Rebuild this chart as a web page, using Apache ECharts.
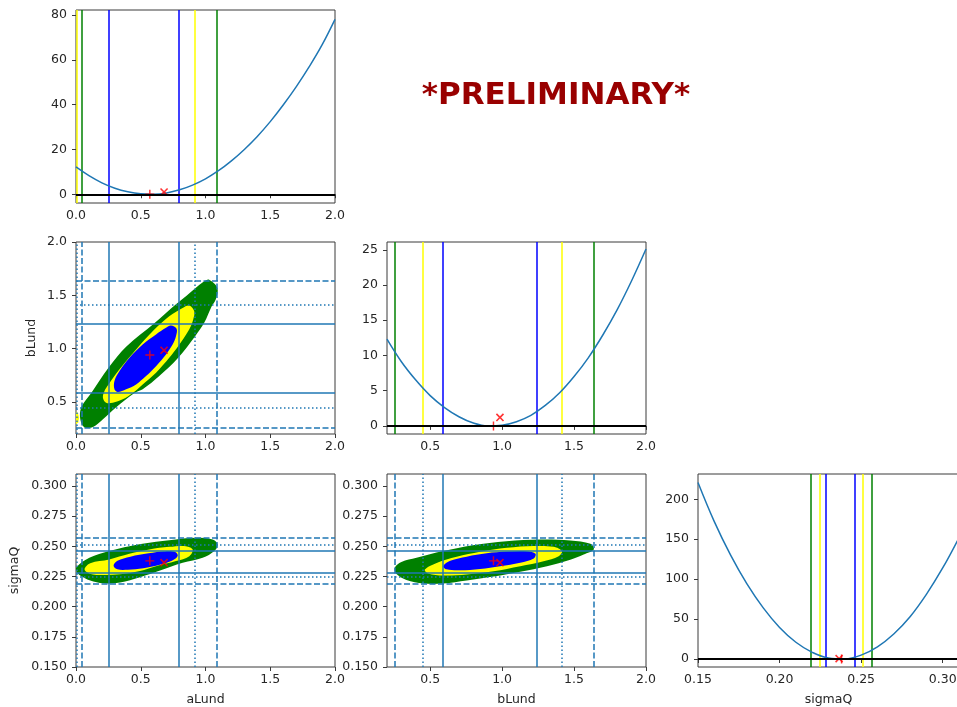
<!DOCTYPE html>
<html><head><meta charset="utf-8">
<script src="https://cdn.jsdelivr.net/npm/echarts@6/dist/echarts.min.js"></script>
<style>html,body{margin:0;padding:0;background:#fff}#c{width:957px;height:707px}</style>
</head><body><div id="c"></div>
<script>
// ---------- data ----------
const paramNames = ['aLund', 'bLund', 'sigmaQ'];

// 1D delta-chi2 profiles
const aLundGrid = [0.0,0.1,0.2,0.3,0.4,0.5,0.6,0.7,0.8,0.9,1.0,1.1,1.2,1.3,1.4,1.5,1.6,1.7,1.8,1.9,2.0];
const chi2_aLund = [12.2,8.3,5.1,2.7,1.1,0.2,0.0,0.6,2.0,4.1,6.9,10.5,14.9,20.0,25.8,32.4,39.8,47.9,56.8,66.6,78.0];
const bLundGrid = [0.2,0.3,0.4,0.5,0.6,0.7,0.8,0.9,1.0,1.1,1.2,1.3,1.4,1.5,1.6,1.7,1.8,1.9,2.0];
const chi2_bLund = [12.3,9.1,6.5,4.3,2.6,1.3,0.4,0.0,0.1,0.6,1.5,2.9,4.7,7.0,9.7,12.9,16.5,20.6,25.1];
const sigmaQGrid = [0.15,0.16,0.17,0.18,0.19,0.20,0.21,0.22,0.23,0.24,0.25,0.26,0.27,0.28,0.29,0.30,0.31];
const chi2_sigmaQ = [221,172,130,94,64,39.5,21,8.4,1.4,0.3,4.9,15.3,31.4,53,81,114,152];

// interval bounds (1 sigma = blue, 2 sigma = yellow, 3 sigma = green)
const aLund_1s = [0.25, 0.79];
const aLund_2s = [0.003, 0.92];
const aLund_3s = [0.045, 1.085];
const bLund_1s = [0.584, 1.238];
const bLund_2s = [0.45, 1.416];
const bLund_3s = [0.254, 1.637];
const sigmaQ_1s = [0.2283, 0.246];
const sigmaQ_2s = [0.2246, 0.2513];
const sigmaQ_3s = [0.219, 0.2568];

// best-fit (+) and alternative (x) points
const bestFit = [0.57, 0.94, 0.238];
const altPoint = [0.68, 0.985, 0.2365];
const altChi2 = [1.0, 1.2, 0.5];

// 2D confidence region outlines
const ab_green = [[1.028,1.647],[1.092,1.569],[1.079,1.460],[1.048,1.397],[0.990,1.242],[0.920,1.117],[0.789,0.915],[0.643,0.743],[0.515,0.619],[0.451,0.584],[0.310,0.450],[0.208,0.338],[0.131,0.266],[0.066,0.262],[0.033,0.338],[0.041,0.450],[0.118,0.584],[0.251,0.821],[0.387,1.018],[0.605,1.238],[0.772,1.416],[0.849,1.491],[0.990,1.631]];
const ab_yellow = [[0.874,1.404],[0.913,1.350],[0.905,1.273],[0.874,1.179],[0.789,1.023],[0.720,0.915],[0.618,0.775],[0.515,0.665],[0.438,0.584],[0.361,0.525],[0.284,0.494],[0.233,0.494],[0.208,0.541],[0.220,0.603],[0.251,0.665],[0.336,0.806],[0.464,0.993],[0.605,1.179],[0.720,1.304],[0.823,1.382]];
const ab_yellow_edge = [[0.0,0.29],[0.018,0.31],[0.024,0.355],[0.015,0.395],[0.0,0.41]];
const ab_blue = [[0.733,1.217],[0.777,1.186],[0.772,1.117],[0.746,1.039],[0.695,0.946],[0.618,0.836],[0.541,0.743],[0.464,0.665],[0.387,0.619],[0.323,0.594],[0.297,0.619],[0.297,0.696],[0.336,0.790],[0.413,0.915],[0.515,1.039],[0.618,1.133],[0.695,1.195]];
const as_green = [[0.005,0.2330],[0.103,0.2405],[0.257,0.2461],[0.412,0.2502],[0.566,0.2530],[0.772,0.2557],[0.927,0.2571],[1.055,0.2557],[1.094,0.2516],[1.068,0.2461],[0.978,0.2405],[0.824,0.2364],[0.649,0.2300],[0.494,0.2245],[0.340,0.2200],[0.237,0.2192],[0.134,0.2208],[0.044,0.2250],[0.005,0.2290]];
const as_yellow = [[0.066,0.2310],[0.110,0.2360],[0.257,0.2391],[0.412,0.2438],[0.566,0.2474],[0.721,0.2496],[0.849,0.2502],[0.901,0.2474],[0.875,0.2419],[0.772,0.2378],[0.618,0.2336],[0.494,0.2295],[0.340,0.2268],[0.211,0.2262],[0.105,0.2274]];
const as_blue = [[0.290,0.2340],[0.320,0.2380],[0.420,0.2415],[0.560,0.2442],[0.690,0.2460],[0.770,0.2452],[0.785,0.2420],[0.740,0.2380],[0.640,0.2345],[0.520,0.2318],[0.400,0.2306],[0.320,0.2310]];
const bs_green = [[0.254,0.2322],[0.300,0.2370],[0.405,0.2405],[0.591,0.2461],[0.797,0.2510],[1.030,0.2543],[1.265,0.2557],[1.474,0.2549],[1.614,0.2521],[1.637,0.2474],[1.567,0.2433],[1.474,0.2390],[1.312,0.2336],[1.126,0.2290],[0.940,0.2250],[0.754,0.2217],[0.591,0.2192],[0.452,0.2192],[0.335,0.2222],[0.266,0.2270]];
const bs_yellow = [[0.463,0.2308],[0.545,0.2363],[0.684,0.2413],[0.847,0.2455],[1.033,0.2488],[1.219,0.2503],[1.358,0.2496],[1.416,0.2460],[1.393,0.2419],[1.288,0.2377],[1.126,0.2336],[0.940,0.2294],[0.754,0.2267],[0.591,0.2258],[0.486,0.2275]];
const bs_blue = [[0.591,0.2336],[0.640,0.2380],[0.754,0.2415],[0.893,0.2443],[1.033,0.2457],[1.172,0.2460],[1.232,0.2438],[1.220,0.2400],[1.126,0.2365],[0.986,0.2336],[0.847,0.2313],[0.707,0.2302],[0.614,0.2310]];

// tick values
const aLundTicks = [0.0, 0.5, 1.0, 1.5, 2.0];
const bLundTicks = [0.5, 1.0, 1.5, 2.0];
const sigmaQTicksY = [0.150, 0.175, 0.200, 0.225, 0.250, 0.275, 0.300];
const sigmaQTicksX = [0.15, 0.20, 0.25, 0.30];
const chi2TicksA = [0, 20, 40, 60, 80];
const chi2TicksB = [0, 5, 10, 15, 20, 25];
const chi2TicksS = [0, 50, 100, 150, 200];

const titleText = '*PRELIMINARY*';

// ---------- styling / layout ----------
const C_CURVE = '#1f77b4';
const C_BLUE = '#0000ff', C_YELLOW = '#ffff00', C_GREEN = '#008000';
const TXT = '#262626';
const FONT = 'DejaVu Sans';
const DASH = [6, 2.5], DOT = [1.5, 2.5];

const grids = [
  {left: 76, top: 10, width: 259, height: 193},
  {left: 76, top: 242, width: 259, height: 192},
  {left: 387, top: 242, width: 259, height: 192},
  {left: 76, top: 474, width: 259, height: 193},
  {left: 387, top: 474, width: 259, height: 193},
  {left: 698, top: 474, width: 261, height: 193}
].map(g => Object.assign(g, {show: true, borderColor: '#3a3a3a', borderWidth: 1, backgroundColor: 'transparent', containLabel: false, outerBoundsMode: 'none'}));

function axis(gi, min, max, ticks, dig, isY, name, nameGap) {
  return {
    type: 'value', gridIndex: gi, min: min, max: max,
    name: name || '', nameLocation: 'middle', nameGap: nameGap || 0,
    nameTextStyle: {fontSize: 12.5, color: TXT, fontFamily: FONT},
    axisLine: {show: false}, splitLine: {show: false},
    axisTick: {show: true, length: 4, customValues: ticks, lineStyle: {color: '#3a3a3a', width: 1}},
    axisLabel: {show: true, customValues: ticks, formatter: v => Number(v).toFixed(dig),
      fontSize: 12.5, color: TXT, fontFamily: FONT, margin: isY ? 9 : 6},
    animation: false
  };
}

const xAxes = [
  axis(0, 0, 2, aLundTicks, 1, false),
  axis(1, 0, 2, aLundTicks, 1, false),
  axis(2, 0.2, 2, bLundTicks, 1, false),
  axis(3, 0, 2, aLundTicks, 1, false, 'aLund', 26),
  axis(4, 0.2, 2, bLundTicks, 1, false, 'bLund', 26),
  axis(5, 0.15, 0.31, sigmaQTicksX, 2, false, 'sigmaQ', 26)
];
const yAxes = [
  axis(0, -3.9, 82.2, chi2TicksA, 0, true),
  axis(1, 0.2, 2.0, bLundTicks, 1, true, 'bLund', 38),
  axis(2, -1.15, 26.1, chi2TicksB, 0, true),
  axis(3, 0.15, 0.31, sigmaQTicksY, 3, true, 'sigmaQ', 55),
  axis(4, 0.15, 0.31, sigmaQTicksY, 3, true),
  axis(5, -10, 231.7, chi2TicksS, 0, true)
];

const PLUS = 'path://M4.2,0h1.6v4.2h4.2v1.6h-4.2v4.2h-1.6v-4.2h-4.2v-1.6h4.2z';
const ML = {symbol: ['none', 'none'], silent: true, animation: false, precision: 6, label: {show: false}};

const series = [];

function curve(gi, xs, ys) {
  series.push({type: 'line', xAxisIndex: gi, yAxisIndex: gi, silent: true, animation: false,
    data: xs.map((x, i) => [x, ys[i]]), smooth: 0.4, symbol: 'none', showSymbol: false,
    lineStyle: {color: C_CURVE, width: 1.5}, z: 3});
}
function vLines1D(gi, s1, s2, s3) {
  const d = [];
  s3.forEach(v => d.push({xAxis: v, lineStyle: {color: C_GREEN, width: 1.5, type: 'solid'}}));
  s2.forEach(v => d.push({xAxis: v, lineStyle: {color: C_YELLOW, width: 1.5, type: 'solid'}}));
  s1.forEach(v => d.push({xAxis: v, lineStyle: {color: C_BLUE, width: 1.5, type: 'solid'}}));
  series.push({type: 'line', xAxisIndex: gi, yAxisIndex: gi, data: [], silent: true, animation: false, z: 2,
    markLine: Object.assign({z: 2, data: d}, ML)});
}
function zeroLine(gi) {
  series.push({type: 'line', xAxisIndex: gi, yAxisIndex: gi, data: [], silent: true, animation: false, z: 6,
    markLine: Object.assign({z: 6, data: [{yAxis: 0, lineStyle: {color: '#000', width: 1.8, type: 'solid'}}]}, ML)});
}
function markers(gi, plusPt, xPt, z) {
  series.push({type: 'scatter', xAxisIndex: gi, yAxisIndex: gi, silent: true, animation: false, z: z,
    data: [plusPt], symbol: PLUS, symbolSize: 9, itemStyle: {color: '#ff0000'}});
  series.push({type: 'scatter', xAxisIndex: gi, yAxisIndex: gi, silent: true, animation: false, z: z,
    data: [xPt], symbol: PLUS, symbolSize: 10, symbolRotate: 45, itemStyle: {color: '#ff0000'}});
}
function region(gi, pts, color, z, sm) {
  series.push({type: 'custom', xAxisIndex: gi, yAxisIndex: gi, coordinateSystem: 'cartesian2d',
    silent: true, animation: false, clip: true, z: z,
    data: [pts[0]],
    renderItem: function (params, api) {
      return {type: 'polygon', shape: {points: pts.map(p => api.coord(p)), smooth: sm == null ? 0.35 : sm},
        style: {fill: color, stroke: null}};
    }});
}
function refLines2D(gi, xs1, xs2, xs3, ys1, ys2, ys3) {
  const d = [];
  const st = (t) => ({color: C_CURVE, width: 1.5, type: t});
  xs1.forEach(v => d.push({xAxis: v, lineStyle: st('solid')}));
  xs2.forEach(v => d.push({xAxis: v, lineStyle: st(DOT)}));
  xs3.forEach(v => d.push({xAxis: v, lineStyle: st(DASH)}));
  ys1.forEach(v => d.push({yAxis: v, lineStyle: st('solid')}));
  ys2.forEach(v => d.push({yAxis: v, lineStyle: st(DOT)}));
  ys3.forEach(v => d.push({yAxis: v, lineStyle: st(DASH)}));
  series.push({type: 'line', xAxisIndex: gi, yAxisIndex: gi, data: [], silent: true, animation: false, z: 5,
    markLine: Object.assign({z: 5, data: d}, ML)});
}

// panel 0: aLund profile
vLines1D(0, aLund_1s, aLund_2s, aLund_3s);
curve(0, aLundGrid, chi2_aLund);
markers(0, [bestFit[0], 0], [altPoint[0], altChi2[0]], 4);
zeroLine(0);

// panel 1: aLund vs bLund
region(1, ab_green, C_GREEN, 1);
region(1, ab_yellow, C_YELLOW, 2);
region(1, ab_yellow_edge, C_YELLOW, 2, 0);
region(1, ab_blue, C_BLUE, 3);
refLines2D(1, aLund_1s, aLund_2s, aLund_3s, bLund_1s, bLund_2s, bLund_3s);
markers(1, [bestFit[0], bestFit[1]], [altPoint[0], altPoint[1]], 7);

// panel 2: bLund profile
vLines1D(2, bLund_1s, bLund_2s, bLund_3s);
curve(2, bLundGrid, chi2_bLund);
markers(2, [bestFit[1], 0], [altPoint[1], altChi2[1]], 4);
zeroLine(2);

// panel 3: aLund vs sigmaQ
region(3, as_green, C_GREEN, 1);
region(3, as_yellow, C_YELLOW, 2);
region(3, as_blue, C_BLUE, 3);
refLines2D(3, aLund_1s, aLund_2s, aLund_3s, sigmaQ_1s, sigmaQ_2s, sigmaQ_3s);
markers(3, [bestFit[0], bestFit[2]], [altPoint[0], altPoint[2]], 7);

// panel 4: bLund vs sigmaQ
region(4, bs_green, C_GREEN, 1);
region(4, bs_yellow, C_YELLOW, 2);
region(4, bs_blue, C_BLUE, 3);
refLines2D(4, bLund_1s, bLund_2s, bLund_3s, sigmaQ_1s, sigmaQ_2s, sigmaQ_3s);
markers(4, [bestFit[1], bestFit[2]], [altPoint[1], altPoint[2]], 7);

// panel 5: sigmaQ profile
vLines1D(5, sigmaQ_1s, sigmaQ_2s, sigmaQ_3s);
curve(5, sigmaQGrid, chi2_sigmaQ);
markers(5, [bestFit[2], 0], [altPoint[2], altChi2[2]], 4);
zeroLine(5);

const chart = echarts.init(document.getElementById('c'), null, {renderer: 'canvas'});
chart.setOption({
  animation: false,
  backgroundColor: '#ffffff',
  grid: grids,
  xAxis: xAxes,
  yAxis: yAxes,
  series: series,
  graphic: [{type: 'text', x: 556, y: 96, silent: true,
    style: {text: titleText, fill: '#990000', font: 'bold 31px "DejaVu Sans"', align: 'center', verticalAlign: 'middle'}}]
});
</script></body></html>
